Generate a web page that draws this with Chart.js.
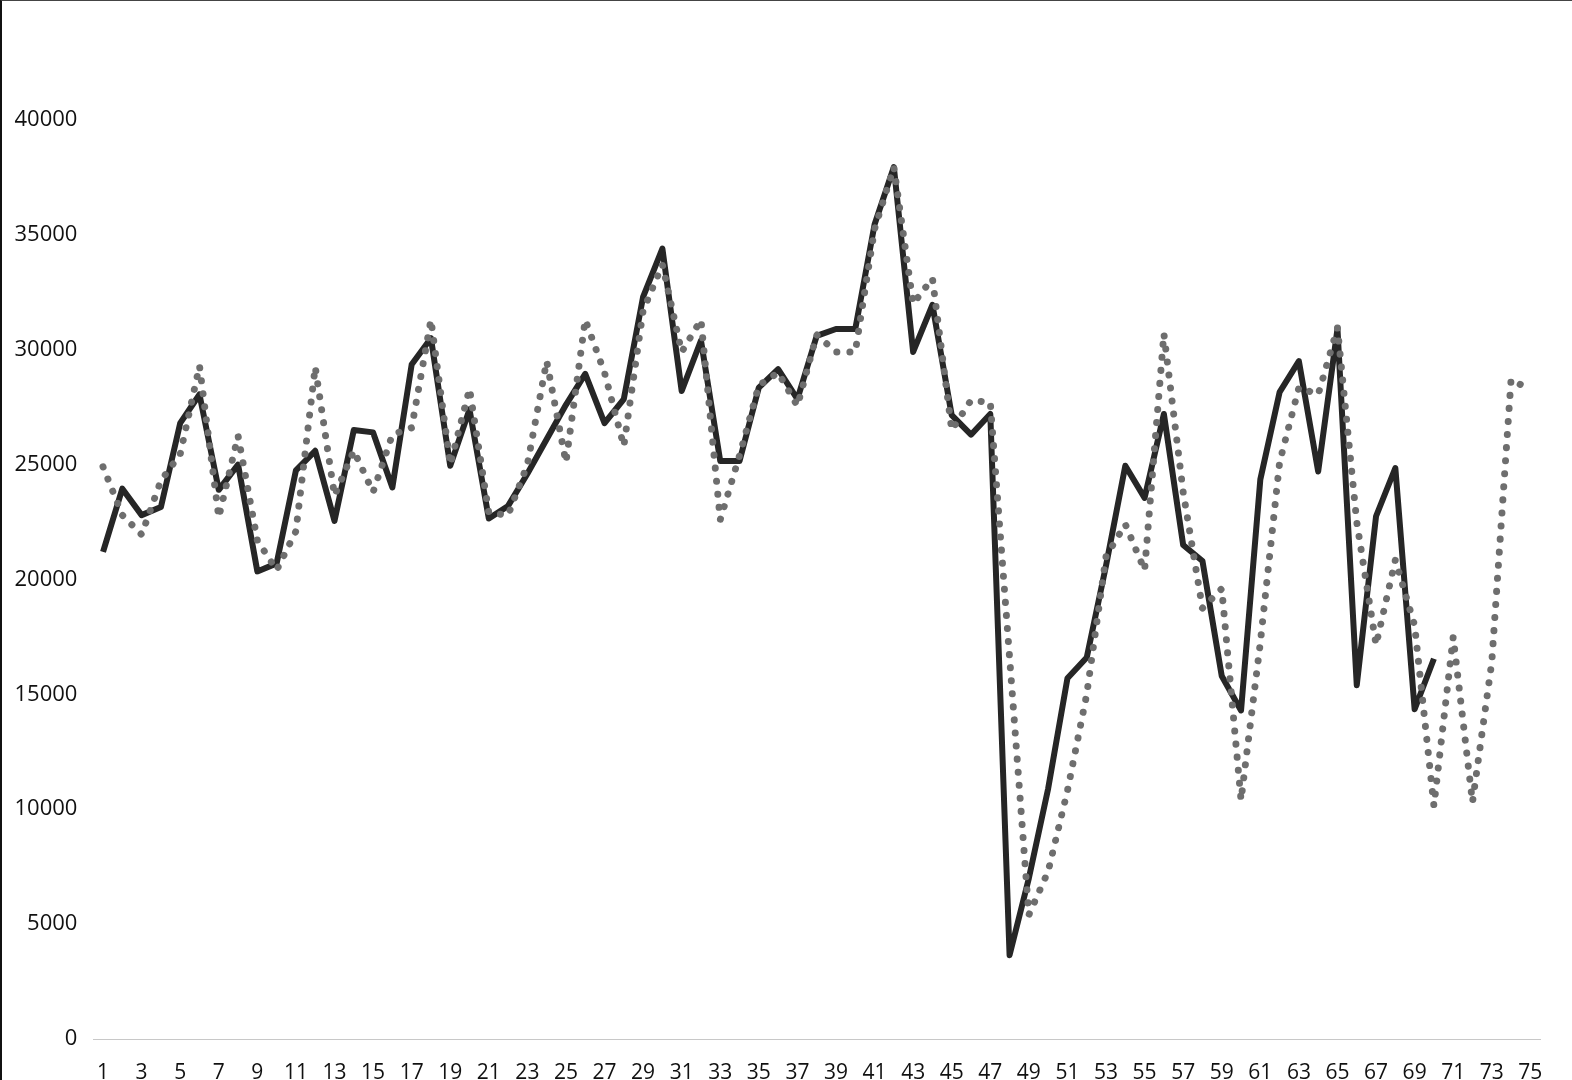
<!DOCTYPE html>
<html>
<head>
<meta charset="utf-8">
<script src="https://cdn.jsdelivr.net/npm/chart.js@4"></script>
<style>
html,body{margin:0;padding:0;background:#fff;}
#wrap{position:relative;width:1572px;height:1080px;}
#frame{position:absolute;left:0;top:0;right:0;bottom:0;border-top:1px solid #444;border-left:2px solid #111;pointer-events:none;}
</style>
</head>
<body>
<div id="wrap">
<canvas id="chart"></canvas>
<div id="frame"></div>
</div>
<script>
// x categories 1..75
const categories = ['1','2','3','4','5','6','7','8','9','10','11','12','13','14','15','16','17','18','19','20',
'21','22','23','24','25','26','27','28','29','30','31','32','33','34','35','36','37','38','39','40',
'41','42','43','44','45','46','47','48','49','50','51','52','53','54','55','56','57','58','59','60',
'61','62','63','64','65','66','67','68','69','70','71','72','73','74','75'];

const solidSeries = [21200,23950,22800,23150,26800,28050,23900,25000,20350,20700,
24750,25600,22550,26500,26400,24000,29350,30500,24950,27400,
22650,23200,24600,26100,27600,28950,26800,27850,32300,34400,
28200,30400,25150,25150,28350,29150,27850,30600,30900,30900,
35450,37950,29900,31950,27150,26300,27200,3650,7000,10900,
15700,16600,20600,24950,23550,27200,21500,20800,15800,14300,
24350,28150,29500,24700,30900,15400,22750,24850,14350,16550];

const dottedSeries = [24900,22800,21950,24300,25450,29300,22700,26250,21700,20400,
22100,29250,23650,25600,23800,26300,26600,31300,25000,28300,
22900,22800,25000,29500,25100,31300,29000,25800,31700,33700,
29900,31300,22600,25400,28450,29000,27550,30650,29900,29900,
35250,37950,32000,33100,26500,27800,27700,16600,5400,7300,
10800,15000,21000,22400,20400,30700,23800,18750,19600,10400,
17250,25100,28350,28050,30950,22500,17150,20850,18000,10150,
17500,10300,16400,28700,28250];

const yTicks = [0,5000,10000,15000,20000,25000,30000,35000,40000];

const ctx = document.getElementById('chart').getContext('2d');
new Chart(ctx, {
  type:'line',
  data:{
    labels:categories,
    datasets:[
      {label:'dotted', data:dottedSeries, borderColor:'#6e6e6e', borderWidth:7,
       borderDash:[0.1,13], borderCapStyle:'round', borderJoinStyle:'round',
       pointRadius:0, tension:0, fill:false},
      {label:'solid', data:solidSeries, borderColor:'#262626', borderWidth:6,
       borderJoinStyle:'round', pointRadius:0, tension:0, fill:false}
    ]
  },
  options:{
    responsive:true, maintainAspectRatio:false, animation:false,
    layout:{padding:{top:5,right:32,left:0,bottom:0}},
    plugins:{legend:{display:false}, tooltip:{enabled:false}},
    scales:{
      x:{
        offset:true,
        grid:{display:false, drawTicks:false},
        border:{display:true, color:'#c8c8c8', width:1},
        ticks:{autoSkip:false, maxRotation:0, padding:21, color:'#111',
          font:{family:'Open Sans', size:21},
          callback:(v,i)=> i%2===0 ? categories[i] : ''},
        afterFit:s=>{ s.height = 41; }
      },
      y:{
        min:0, max:45000,
        grid:{display:false, drawTicks:false},
        border:{display:false},
        afterBuildTicks:s=>{ s.ticks = yTicks.map(v=>({value:v})); },
        ticks:{padding:16, color:'#111', font:{family:'Open Sans', size:22},
          callback:v=> String(v)},
        afterFit:s=>{ s.width = 93.4; s.paddingTop = 0; s.paddingBottom = 0; }
      }
    }
  }
});
</script>
</body>
</html>
